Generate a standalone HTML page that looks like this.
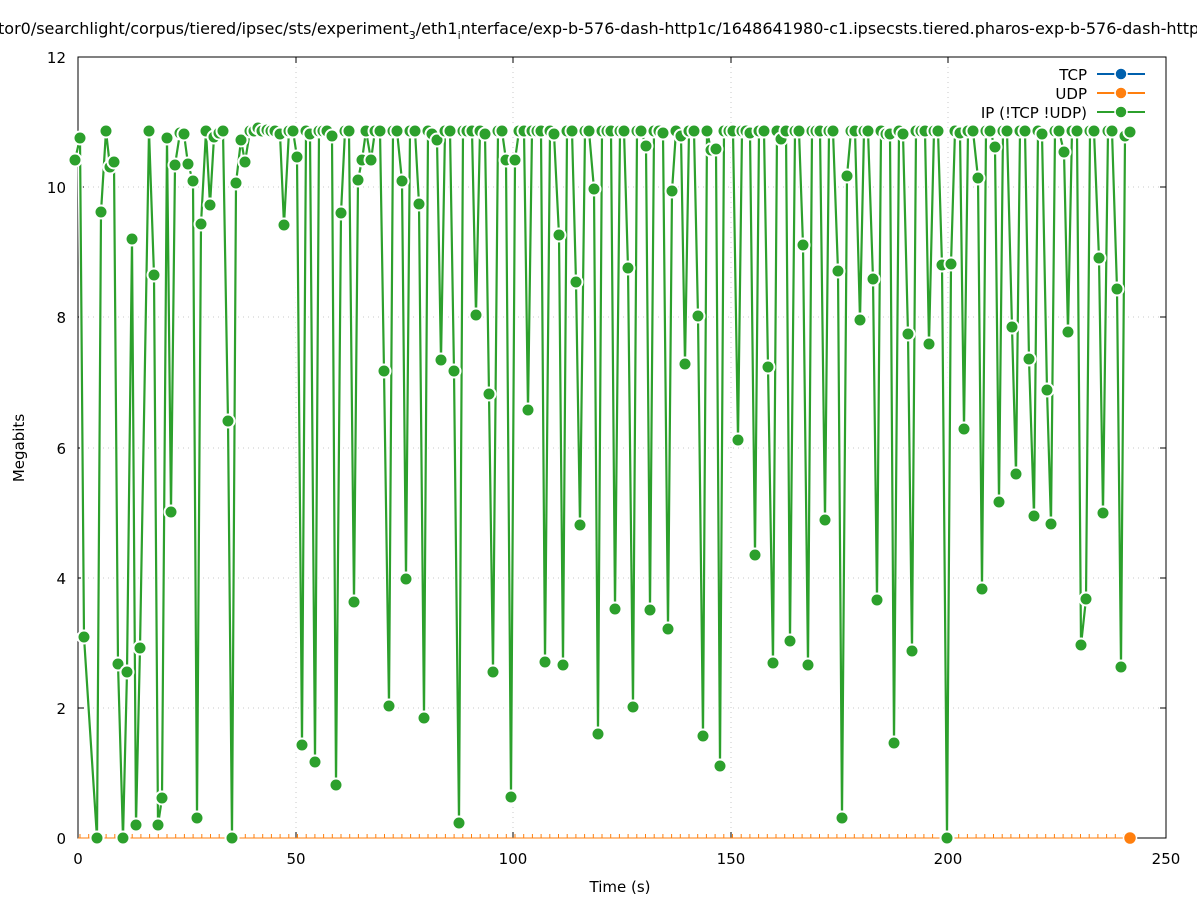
<!DOCTYPE html>
<html><head><meta charset="utf-8"><style>body{margin:0;background:#fff}svg{display:block;font-family:"DejaVu Sans","Liberation Sans",sans-serif}</style></head>
<body>
<svg id="s" width="1197" height="900" viewBox="0 0 1197 900" xmlns="http://www.w3.org/2000/svg">
<rect width="1197" height="900" fill="#fff"/>
<g stroke="#c8c8c8" stroke-dasharray="1,4" stroke-width="1">
<line x1="78" y1="708" x2="1166" y2="708"/><line x1="78" y1="578" x2="1166" y2="578"/><line x1="78" y1="448" x2="1166" y2="448"/><line x1="78" y1="317" x2="1166" y2="317"/><line x1="78" y1="187" x2="1166" y2="187"/>
<line x1="296" y1="57" x2="296" y2="838"/><line x1="513" y1="57" x2="513" y2="838"/><line x1="731" y1="57" x2="731" y2="838"/><line x1="948" y1="57" x2="948" y2="838"/>
</g>
<rect x="78" y="57" width="1088" height="781" fill="none" stroke="#000" stroke-width="1"/>
<g stroke="#000" stroke-width="1">
<path d="M78 708h6M78 578h6M78 448h6M78 317h6M78 187h6M1166 708h-6M1166 578h-6M1166 448h-6M1166 317h-6M1166 187h-6M296 838v-6M513 838v-6M731 838v-6M948 838v-6M296 57v6M513 57v6M731 57v6M948 57v6"/>
</g>
<g font-size="15" fill="#000" text-anchor="end">
<text x="66" y="844">0</text><text x="66" y="714">2</text><text x="66" y="584">4</text><text x="66" y="454">6</text><text x="66" y="323">8</text><text x="66" y="193">10</text><text x="66" y="63">12</text>
</g>
<g font-size="15" fill="#000" text-anchor="middle">
<text x="78" y="864">0</text><text x="296" y="864">50</text><text x="513" y="864">100</text><text x="731" y="864">150</text><text x="948" y="864">200</text><text x="1166" y="864">250</text>
<text x="620" y="892">Time (s)</text>
<text transform="translate(24,448) rotate(-90)">Megabits</text>
</g>
<text x="-2" y="34" font-size="16">tor0/searchlight/corpus/tiered/ipsec/sts/experiment<tspan font-size="11" dy="5">3</tspan><tspan dy="-5">/eth1</tspan><tspan font-size="11" dy="5">i</tspan><tspan dy="-5">nterface/exp-b-576-dash-http1c/1648641980-c1.ipsecsts.tiered.pharos-exp-b-576-dash-http1c</tspan></text>
<g id="udp" stroke="#ff7f0e" stroke-width="1"></g>
<g id="ip"></g>
<g font-size="15" fill="#000" text-anchor="end">
<text x="1087" y="80">TCP</text><text x="1087" y="99">UDP</text><text x="1087" y="118">IP (!TCP  !UDP)</text>
</g>
<line x1="1097" y1="74" x2="1145" y2="74" stroke="#0060ad" stroke-width="2"/><circle cx="1121" cy="74" r="6" fill="#0060ad" stroke="#fff" stroke-width="1.5"/>
<line x1="1097" y1="93" x2="1145" y2="93" stroke="#ff7f0e" stroke-width="2"/><circle cx="1121" cy="93" r="6" fill="#ff7f0e" stroke="#fff" stroke-width="1.5"/>
<line x1="1097" y1="112" x2="1145" y2="112" stroke="#2ca02c" stroke-width="2"/><circle cx="1121" cy="112" r="6" fill="#2ca02c" stroke="#fff" stroke-width="1.5"/>
</svg>
<script>
var P=[[75,160],[80,138],[84,637],[97,838],[101,212],[106,131],[110,167],[114,162],[118,664],[123,838],[127,672],[132,239],[136,825],[140,648],[149,131],[154,275],[158,825],[162,798],[167,138],[171,512],[175,165],[180,133],[184,134],[188,164],[193,181],[197,818],[201,224],[206,131],[210,205],[214,137],[219,133],[223,131],[228,421],[232,838],[236,183],[241,140],[245,162],[250,131],[254,131],[258,128],[262,131],[267,130],[271,131],[275,131],[280,134],[284,225],[289,131],[293,131],[297,157],[302,745],[306,131],[310,134],[315,762],[319,131],[323,131],[327,131],[332,136],[336,785],[341,213],[345,131],[349,131],[354,602],[358,180],[362,160],[366,131],[371,160],[375,131],[380,131],[384,371],[389,706],[393,131],[397,131],[402,181],[406,579],[410,131],[415,131],[419,204],[424,718],[428,131],[432,134],[437,140],[441,360],[445,131],[450,131],[454,371],[459,823],[463,131],[467,131],[472,131],[476,315],[480,131],[485,134],[489,394],[493,672],[498,131],[502,131],[506,160],[511,797],[515,160],[519,131],[524,131],[528,410],[532,131],[537,131],[541,131],[545,662],[550,131],[554,134],[559,235],[563,665],[567,131],[572,131],[576,282],[580,525],[585,131],[589,131],[594,189],[598,734],[602,131],[607,131],[611,131],[615,609],[620,131],[624,131],[628,268],[633,707],[637,131],[641,131],[646,146],[650,610],[654,131],[659,131],[663,133],[668,629],[672,191],[676,131],[681,136],[685,364],[689,131],[694,131],[698,316],[703,736],[707,131],[711,150],[716,149],[720,766],[724,131],[729,131],[733,131],[738,440],[742,131],[746,131],[750,133],[755,555],[759,131],[764,131],[768,367],[773,663],[777,131],[781,139],[786,131],[790,641],[795,131],[799,131],[803,245],[808,665],[812,131],[816,131],[820,131],[825,520],[829,131],[833,131],[838,271],[842,818],[847,176],[851,131],[855,131],[860,320],[864,131],[868,131],[873,279],[877,600],[881,131],[886,134],[890,134],[894,743],[899,131],[903,134],[908,334],[912,651],[916,131],[921,131],[925,131],[929,344],[934,131],[938,131],[942,265],[947,838],[951,264],[955,131],[960,133],[964,429],[968,131],[973,131],[978,178],[982,589],[986,131],[990,131],[995,147],[999,502],[1003,131],[1007,131],[1012,327],[1016,474],[1020,131],[1025,131],[1029,359],[1034,516],[1038,131],[1042,134],[1047,390],[1051,524],[1055,131],[1059,131],[1064,152],[1068,332],[1072,131],[1077,131],[1081,645],[1086,599],[1090,131],[1094,131],[1099,258],[1103,513],[1108,131],[1112,131],[1117,289],[1121,667],[1125,136],[1130,132]];
var ns="http://www.w3.org/2000/svg",g=document.getElementById("ip"),u=document.getElementById("udp");
function el(t,a,p){var e=document.createElementNS(ns,t);for(var k in a)e.setAttribute(k,a[k]);p.appendChild(e);return e;}
var pts=P.map(function(p){return p.join(",")}).join(" ");
el("polyline",{points:pts,fill:"none",stroke:"#fff","stroke-width":5,"stroke-linejoin":"round"},g);
el("polyline",{points:pts,fill:"none",stroke:"#2ca02c","stroke-width":2.2,"stroke-linejoin":"round"},g);
P.forEach(function(p){el("circle",{cx:p[0],cy:p[1],r:6.5,fill:"#2ca02c",stroke:"#fff","stroke-width":2},g);});
for(var x=80;x<1130;x+=8.7){el("line",{x1:x,y1:834,x2:x,y2:838},u);}
el("line",{x1:78,y1:838,x2:1130,y2:838,stroke:"#ff7f0e","stroke-width":1},u);
el("circle",{cx:1130,cy:838,r:6.5,fill:"#ff7f0e",stroke:"#fff","stroke-width":1.5},u);
</script>
</body></html>
